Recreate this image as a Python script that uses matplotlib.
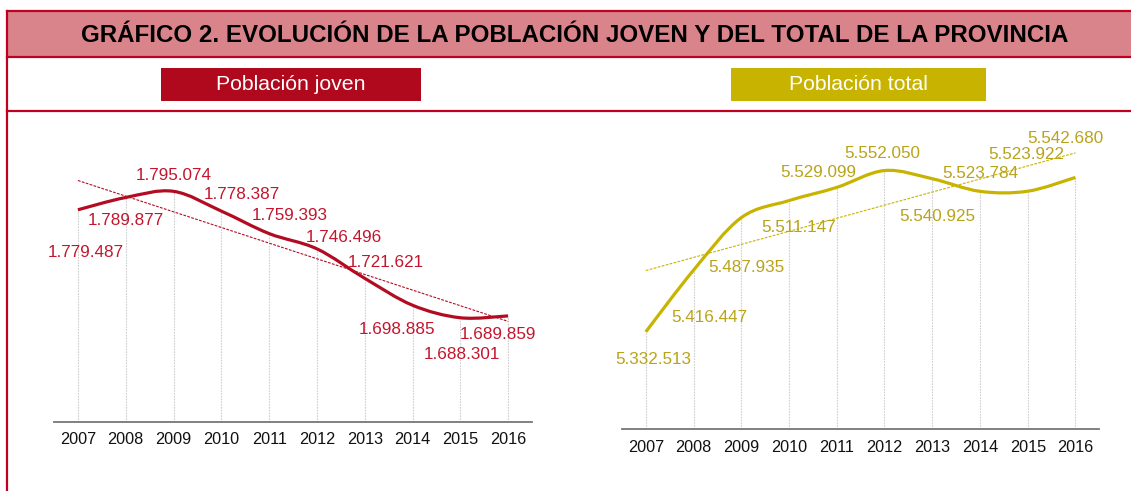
import numpy as np
import matplotlib
matplotlib.use("Agg")
import matplotlib.pyplot as plt
from matplotlib.path import Path
from matplotlib.patches import PathPatch, Rectangle
from matplotlib.lines import Line2D

plt.rcParams['font.family'] = ['Liberation Sans', 'DejaVu Sans']

# ---------------- data ----------------
years = ['2007', '2008', '2009', '2010', '2011', '2012', '2013', '2014', '2015', '2016']
poblacion_joven = [1779487, 1789877, 1795074, 1778387, 1759393,
                   1746496, 1721621, 1698885, 1688301, 1689859]
poblacion_total = [5332513, 5416447, 5487935, 5511147, 5529099,
                   5552050, 5540925, 5523784, 5523922, 5542680]
title = 'GRÁFICO 2. EVOLUCIÓN DE LA POBLACIÓN JOVEN Y DEL TOTAL DE LA PROVINCIA'
legend_joven = 'Población joven'
legend_total = 'Población total'

# label offsets (pixels) relative to each point
off_joven = [(8, -41), (0, -22), (0, 17), (21, 18), (21, 20),
             (27, 13), (21, 17), (-16, -23), (2, -35), (-10, -17)]
off_total = [(8, -26), (16, -46), (5, -48), (10, -25), (-18, 16),
             (-2, 19), (5, -36), (0, 19), (-1, 38), (-10, 40)]

W, H = 1131, 491
fig = plt.figure(figsize=(W / 100, H / 100), dpi=100)


def fx(x):
    return x / W


def fy(y):
    return 1 - y / H


RED = '#C00020'
BAND = '#D9848B'
JOVEN_BOX = '#B0081C'
TOTAL_BOX = '#C8B400'

# frame
fig.add_artist(Rectangle((fx(7), fy(57.3)), 1 - fx(7), fy(10.7) - fy(57.3),
                         transform=fig.transFigure, facecolor=BAND, edgecolor='none'))
for yy in (10.7, 57.3, 111):
    fig.add_artist(Line2D([fx(7), 1], [fy(yy), fy(yy)], transform=fig.transFigure,
                          color=RED, lw=1.6))
fig.add_artist(Line2D([fx(7.3), fx(7.3)], [fy(10.7), 0], transform=fig.transFigure,
                      color=RED, lw=1.6))

fig.text(fx(575), fy(41.7), title, ha='center', va='baseline', fontsize=17.4,
         fontweight='bold', color='black')

# legend boxes
for (x0, x1, col, txt) in [(161, 421, JOVEN_BOX, legend_joven), (731, 986, TOTAL_BOX, legend_total)]:
    fig.add_artist(Rectangle((fx(x0), fy(100.7)), fx(x1) - fx(x0), fy(68.3) - fy(100.7),
                             transform=fig.transFigure, facecolor=col, edgecolor='none'))
    fig.text(fx((x0 + x1) / 2), fy(84.8), txt, ha='center', va='center', fontsize=15.3,
             color='white')


def smooth_path(xs, ys):
    pts = np.column_stack([xs, ys]).astype(float)
    n = len(pts)
    verts = [pts[0]]
    codes = [Path.MOVETO]
    for i in range(n - 1):
        p0 = pts[max(i - 1, 0)]
        p1 = pts[i]
        p2 = pts[i + 1]
        p3 = pts[min(i + 2, n - 1)]
        c1 = p1 + (p2 - p0) / 6.0
        c2 = p2 - (p3 - p1) / 6.0
        verts += [c1, c2, p2]
        codes += [Path.CURVE4] * 3
    return Path(verts, codes)


def panel(rect, values, ylim, line_col, label_col, offsets, tick_pad):
    ax = fig.add_axes(rect)
    x = np.arange(len(values))
    ax.set_xlim(-0.5, len(values) - 0.5)
    ax.set_ylim(*ylim)
    for s in ('top', 'right', 'left'):
        ax.spines[s].set_visible(False)
    ax.spines['bottom'].set_color('#767676')
    ax.spines['bottom'].set_linewidth(1.3)
    ax.set_yticks([])
    ax.set_xticks(x)
    ax.set_xticklabels(years, fontsize=11.7, color='#111111')
    ax.tick_params(axis='x', length=0, pad=tick_pad)
    # drop lines
    ax.vlines(x, ylim[0], values, colors='#CFCFCF', linestyles=(0, (1.5, 1)), lw=0.8, zorder=1)
    # trend line
    k, b = np.polyfit(x, values, 1)
    ax.plot([x[0], x[-1]], [k * x[0] + b, k * x[-1] + b], color=line_col,
            lw=0.8, ls=(0, (2.5, 1.2)), zorder=2, clip_on=False)
    # smoothed series
    ax.add_patch(PathPatch(smooth_path(x, values), facecolor='none', edgecolor=line_col,
                           lw=2.3, zorder=3, capstyle='butt', clip_on=False))
    for xi, v, (dx, dy) in zip(x, values, offsets):
        lab = f'{v:,}'.replace(',', '.')
        ax.annotate(lab, (xi, v), xytext=(dx, dy - 6), textcoords='offset pixels',
                    ha='center', va='baseline', fontsize=12.3, color=label_col,
                    annotation_clip=False, zorder=4)
    return ax


panel([fx(54), fy(422.3), fx(532) - fx(54), fy(185.5) - fy(422.3)],
      poblacion_joven, (1600000, 1800000), '#B30C22', '#C3162E', off_joven, 7)
panel([fx(621.9), fy(429.3), fx(1099.3) - fx(621.9), fy(135.3) - fy(429.3)],
      poblacion_total, (5200000, 5600000), '#C8B400', '#B9A31A', off_total, 8)

fig.savefig('out.png', dpi=100)
